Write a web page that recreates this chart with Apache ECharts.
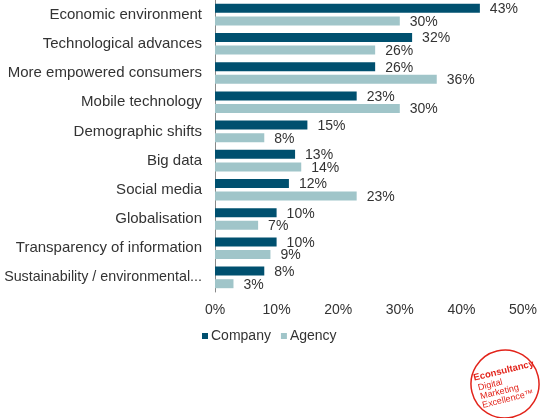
<!DOCTYPE html>
<html>
<head>
<meta charset="utf-8">
<script src="https://cdn.jsdelivr.net/npm/echarts@6/dist/echarts.min.js"></script>
<style>
  html, body { margin: 0; padding: 0; background: #fff; }
  #chart { width: 540px; height: 418px; }
</style>
</head>
<body>
<div id="chart"></div>
<script>
const categories = ['Economic environment', 'Technological advances', 'More empowered consumers', 'Mobile technology',
  'Demographic shifts', 'Big data', 'Social media', 'Globalisation', 'Transparency of information',
  'Sustainability / environmental...']
const company = [43, 32, 26, 23, 15, 13, 12, 10, 10, 8]
const agency = [30, 26, 36, 30, 8, 14, 23, 7, 9, 3]
const ticks = [0, 10, 20, 30, 40, 50]

function drawChart (divID) {
  const chart = echarts.init(document.getElementById(divID), null, { renderer: 'canvas' })
  const font = 'Liberation Sans, Arial, sans-serif'
  const option = {
    animation: false,
    color: ['#00506f', '#a0c5c9'],
    textStyle: { fontFamily: font },
    grid: {
      left: 215,
      right: 12,
      top: 0,
      bottom: 126,
      containLabel: false
    },
    legend: {
      left: 197,
      top: 324,
      icon: 'rect',
      itemWidth: 6,
      itemHeight: 6,
      itemGap: 10,
      textStyle: { fontSize: 14, color: '#333', fontFamily: font, padding: [0, 0, 0, -2] },
      data: ['Company', 'Agency']
    },
    xAxis: {
      type: 'value',
      min: ticks[0],
      max: ticks[ticks.length - 1],
      interval: 10,
      axisLine: { show: false },
      axisTick: { show: false },
      splitLine: { show: false },
      axisLabel: {
        margin: 11,
        fontSize: 14,
        color: '#333',
        formatter: '{value}%'
      }
    },
    yAxis: {
      type: 'category',
      inverse: true,
      data: categories,
      axisTick: { show: false },
      axisLine: { show: true, lineStyle: { color: '#888', width: 1 } },
      axisLabel: {
        margin: 13,
        fontSize: 15,
        color: '#333',
        formatter: function (v) {
          if (v.indexOf('Sustainability') === 0) return '{s|' + v + '}'
          return v
        },
        rich: {
          s: { fontSize: 14.3, color: '#333', fontFamily: font }
        }
      }
    },
    series: [{
      name: 'Company',
      type: 'bar',
      data: company,
      barWidth: 9,
      barGap: '40%',
      label: {
        show: true,
        position: 'right',
        distance: 10,
        fontSize: 14,
        color: '#333',
        offset: [0, 1],
        formatter: '{c}%'
      }
    }, {
      name: 'Agency',
      type: 'bar',
      data: agency,
      barWidth: 9,
      label: {
        show: true,
        position: 'right',
        distance: 10,
        fontSize: 14,
        color: '#333',
        offset: [0, 1],
        formatter: '{c}%'
      }
    }],
    graphic: [{
      type: 'group',
      x: 505,
      y: 384,
      rotation: 0.24,
      children: [{
        type: 'circle',
        shape: { cx: 0, cy: 0, r: 34 },
        style: { fill: 'none', stroke: '#e2231a', lineWidth: 1.5 }
      }, {
        type: 'text',
        x: -29,
        y: -18,
        style: { text: 'Econsultancy', fill: '#e2231a', font: 'bold 9.5px ' + font }
      }, {
        type: 'text',
        x: -27,
        y: -7,
        style: { text: 'Digital\nMarketing\nExcellence\u2122', fill: '#e2231a', font: '9px ' + font, lineHeight: 9 }
      }]
    }]
  }
  chart.setOption(option)
}

drawChart('chart')
</script>
</body>
</html>
